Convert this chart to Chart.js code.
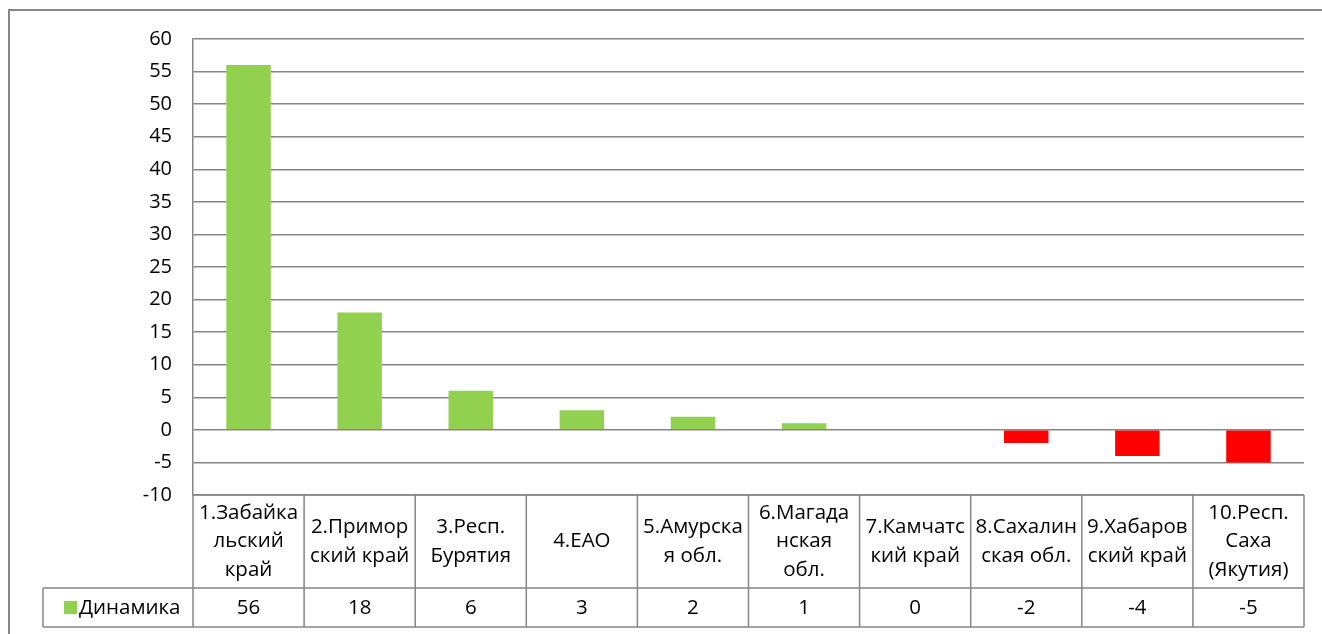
<!DOCTYPE html>
<html>
<head>
<meta charset="utf-8">
<script src="https://cdn.jsdelivr.net/npm/chart.js@4"></script>
<style>
  html, body { margin: 0; padding: 0; background: #fff; }
  #wrap { width: 1322px; height: 634px; }
</style>
</head>
<body>
<div id="wrap"><canvas id="chart1" width="1322" height="634"></canvas></div>
<script>
// Region labels, as they wrap in the table header
const regions = [
    ['1.Забайка', 'льский', 'край'],
    ['2.Примор', 'ский край'],
    ['3.Респ.', 'Бурятия'],
    ['4.ЕАО'],
    ['5.Амурска', 'я обл.'],
    ['6.Магада', 'нская', 'обл.'],
    ['7.Камчатс', 'кий край'],
    ['8.Сахалин', 'ская обл.'],
    ['9.Хабаров', 'ский край'],
    ['10.Респ.', 'Саха', '(Якутия)']
];
const seriesName = 'Динамика';
const dynamics = [56, 18, 6, 3, 2, 1, 0, -2, -4, -5];

const GREEN = '#92d050';
const RED = '#ff0000';
const LINE = '#868686';
const FONT = '"Open Sans", "Noto Sans", sans-serif';

// outer frame + data table under the plot
const tablePlugin = {
    id: 'dataTable',
    beforeDraw(chart) {
        const c = chart.ctx;
        c.save();
        c.strokeStyle = LINE;
        c.lineWidth = 2;
        c.beginPath();
        c.moveTo(9, 634);
        c.lineTo(9, 10);
        c.lineTo(1322, 10);
        c.stroke();
        c.restore();
    },
    afterDraw(chart) {
        const c = chart.ctx;
        const x = chart.scales.x;
        const area = chart.chartArea;
        const colW = (area.right - area.left) / regions.length;
        const top = area.bottom;
        const mid = 588;
        const bottom = 627;
        const legendLeft = 43;

        c.save();
        c.strokeStyle = LINE;
        c.lineWidth = 1.5;
        c.beginPath();
        // horizontal lines
        c.moveTo(area.left, top); c.lineTo(area.right, top);
        c.moveTo(legendLeft, mid); c.lineTo(area.right, mid);
        c.moveTo(legendLeft, bottom); c.lineTo(area.right, bottom);
        // vertical lines
        c.moveTo(legendLeft, mid); c.lineTo(legendLeft, bottom);
        for (let i = 0; i <= regions.length; i++) {
            const px = area.left + i * colW;
            c.moveTo(px, top); c.lineTo(px, bottom);
        }
        c.stroke();

        c.fillStyle = '#000';
        c.font = '20.5px ' + FONT;
        c.textAlign = 'center';
        c.textBaseline = 'middle';
        const lh = 28.5;
        regions.forEach((lines, i) => {
            const cx = x.getPixelForValue(i);
            const y0 = (top + mid) / 2 - (lines.length - 1) * lh / 2;
            lines.forEach((t, j) => c.fillText(t, cx, y0 + j * lh));
            c.fillText(String(dynamics[i]), cx, (mid + bottom) / 2 + 1);
        });

        // legend key
        c.fillStyle = GREEN;
        c.fillRect(64, 601, 13, 13);
        c.fillStyle = '#000';
        c.textAlign = 'left';
        c.fillText(seriesName, 79, (mid + bottom) / 2 + 1);
        c.restore();
    }
};

const ctx = document.getElementById('chart1').getContext('2d');
new Chart(ctx, {
    type: 'bar',
    data: {
        labels: regions.map(r => r.join(' ')),
        datasets: [{
            label: seriesName,
            data: dynamics,
            backgroundColor: c => (c.raw < 0 ? RED : GREEN),
            barPercentage: 0.4,
            categoryPercentage: 1,
        }]
    },
    options: {
        responsive: false,
        animation: false,
        layout: { padding: { top: 39, right: 18, bottom: 139, left: 0 } },
        plugins: { legend: { display: false }, tooltip: { enabled: false } },
        scales: {
            x: {
                display: false,
                offset: true,
            },
            y: {
                min: -10,
                max: 60,
                ticks: {
                    stepSize: 5,
                    color: '#000',
                    font: { size: 20, family: FONT },
                    padding: 21,
                },
                grid: { color: LINE, lineWidth: 1.5, drawTicks: false },
                border: { color: LINE, width: 1.5 },
                afterFit(scale) { scale.width = 193; }
            }
        }
    },
    plugins: [tablePlugin]
});
</script>
</body>
</html>
